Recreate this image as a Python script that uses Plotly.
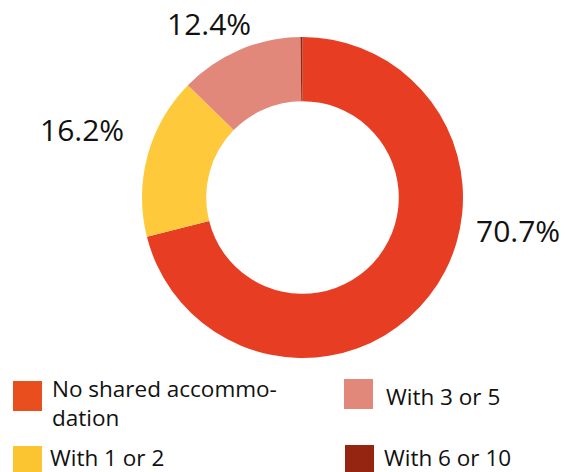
import plotly.graph_objects as go

categories = ["No shared accommodation", "With 1 or 2", "With 3 or 5", "With 6 or 10"]
legend_labels = ["No shared accommo-<br>dation", "With 1 or 2", "With 3 or 5", "With 6 or 10"]
values = [70.7, 16.2, 12.4, 0.2]
pct_labels = ["70.7%", "16.2%", "12.4%", ""]
colors = ["#E73D23", "#FECA3C", "#E1887A", "#952510"]
legend_colors = ["#E84E1E", "#FAC530", "#E1887A", "#952510"]

W, H = 573, 472
FONT = "Open Sans"

def px(x):
    return x / W

def py(y):
    return 1 - y / H

fig = go.Figure(go.Pie(
    labels=categories,
    values=values,
    hole=0.6,
    sort=False,
    direction="clockwise",
    rotation=0,
    textinfo="none",
    marker=dict(colors=colors, line=dict(width=0)),
    domain=dict(x=[px(142), px(463)], y=[py(358), py(37)]),
    showlegend=False,
    hoverinfo="label+percent",
))

annotations = []
# percentage labels (positions in pixels)
label_pos = [(518, 231), (82, 130), (209, 24)]
for (x, y), t in zip(label_pos, pct_labels[:3]):
    annotations.append(dict(x=px(x), y=py(y), xref="paper", yref="paper",
                            text=t, showarrow=False, xanchor="center", yanchor="middle",
                            font=dict(family=FONT, size=30, color="#111111")))

# manual legend
sq = [(13, 381, 42, 411), (13, 446, 42, 476), (344, 379, 373, 409), (345, 445, 374, 475)]
txt = [(50, 403), (48, 457), (384, 396), (382, 457)]
shapes = []
for i in range(4):
    x0, y0, x1, y1 = sq[i]
    shapes.append(dict(type="rect", xref="paper", yref="paper",
                       x0=px(x0), x1=px(x1), y0=py(y1), y1=py(y0),
                       fillcolor=legend_colors[i], line=dict(width=0)))
    tx, ty = txt[i]
    annotations.append(dict(x=px(tx), y=py(ty), xref="paper", yref="paper",
                            text=legend_labels[i], showarrow=False, xanchor="left",
                            yanchor="middle", align="left",
                            font=dict(family=FONT, size=22.5, color="#111111")))

fig.update_layout(
    width=W, height=H,
    margin=dict(l=0, r=0, t=0, b=0),
    paper_bgcolor="white",
    plot_bgcolor="white",
    annotations=annotations,
    shapes=shapes,
)

fig.write_html("out.html",
               config={"displayModeBar": False},
               post_script="document.body.style.margin='0';document.body.style.padding='0';document.body.style.overflow='hidden';")
